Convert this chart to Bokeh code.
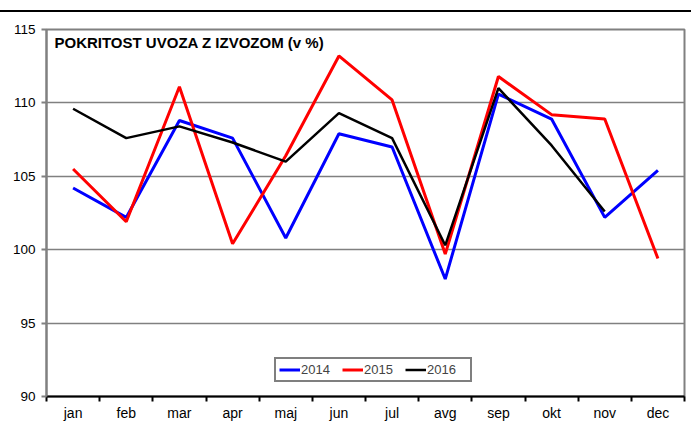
from bokeh.plotting import figure
from bokeh.models import FixedTicker, Label, Legend, LegendItem, Div
from bokeh.layouts import column
from bokeh.embed import file_html
from bokeh.resources import INLINE

months = ["jan", "feb", "mar", "apr", "maj", "jun", "jul", "avg", "sep", "okt", "nov", "dec"]
v2014 = [104.2, 102.2, 108.8, 107.6, 100.8, 107.9, 107.0, 98.0, 110.6, 108.9, 102.2, 105.4]
v2015 = [105.5, 101.9, 111.1, 100.4, 106.4, 113.2, 110.2, 99.7, 111.8, 109.2, 108.9, 99.4]
v2016 = [109.6, 107.6, 108.4, 107.3, 106.0, 109.3, 107.6, 100.3, 111.0, 107.1, 102.6]
y_ticks = [90, 95, 100, 105, 110, 115]
title_text = "POKRITOST UVOZA Z IZVOZOM (v %)"

FONT = "Liberation Sans"
GRAY = "#808080"

xs = [i + 0.5 for i in range(len(months))]

p = figure(width=687, height=411, x_range=(0, len(months)), y_range=(90, 115),
           output_backend="svg", toolbar_location=None,
           min_border_left=46, min_border_right=3, min_border_top=16, min_border_bottom=28)
p.background_fill_color = "white"
p.border_fill_color = "white"
p.outline_line_color = GRAY
p.outline_line_width = 2

r14 = p.line(xs, v2014, line_color="#0000FF", line_width=3)
r15 = p.line(xs, v2015, line_color="#FF0000", line_width=3)
r16 = p.line(xs[:len(v2016)], v2016, line_color="black", line_width=2.5)

# axes
p.xaxis.ticker = FixedTicker(ticks=xs, minor_ticks=list(range(len(months) + 1)))
p.xaxis.major_label_overrides = {x: m for x, m in zip(xs, months)}
p.xaxis.major_tick_out = 0
p.xaxis.major_tick_in = 0
p.xaxis.minor_tick_out = 5
p.xaxis.minor_tick_in = 0
p.xaxis.minor_tick_line_color = "black"
p.xaxis.minor_tick_line_width = 2
p.xaxis.axis_line_color = "black"
p.xaxis.axis_line_width = 2
p.xaxis.major_label_standoff = 3
p.xaxis.major_label_text_font = FONT
p.xaxis.major_label_text_font_size = "14px"
p.xaxis.major_label_text_color = "black"

p.yaxis.ticker = FixedTicker(ticks=y_ticks)
p.yaxis.axis_line_color = GRAY
p.yaxis.axis_line_width = 2
p.yaxis.major_tick_out = 5
p.yaxis.major_tick_in = 0
p.yaxis.major_tick_line_color = GRAY
p.yaxis.major_tick_line_width = 2
p.yaxis.minor_tick_line_color = None
p.yaxis.major_label_standoff = 6
p.yaxis.major_label_text_font = FONT
p.yaxis.major_label_text_font_size = "13.5px"
p.yaxis.major_label_text_color = "black"

p.xgrid.grid_line_color = None
p.ygrid.grid_line_color = GRAY
p.ygrid.grid_line_width = 1.5

p.add_layout(Label(x=0.15, y=114.7, text=title_text, text_font=FONT,
                   text_font_size="15px", text_font_style="bold",
                   text_baseline="top", text_align="left", text_color="black"))

legend = Legend(items=[LegendItem(label="2014", renderers=[r14]),
                       LegendItem(label="2015", renderers=[r15]),
                       LegendItem(label="2016", renderers=[r16])],
                orientation="horizontal", location=(228, 14),
                border_line_color="black", border_line_width=2,
                background_fill_color="white", background_fill_alpha=1,
                padding=3, margin=0, spacing=1, glyph_width=21, glyph_height=13,
                label_height=13, label_width=40, label_standoff=1,
                label_text_font=FONT, label_text_font_size="13px")
p.add_layout(legend)

top_line = Div(text="", width=691, height=2, margin=(10, 0, 1, 0),
               styles={"background-color": "black"})
layout = column(top_line, p, spacing=0)

open("out.html", "w").write(file_html(layout, INLINE))
